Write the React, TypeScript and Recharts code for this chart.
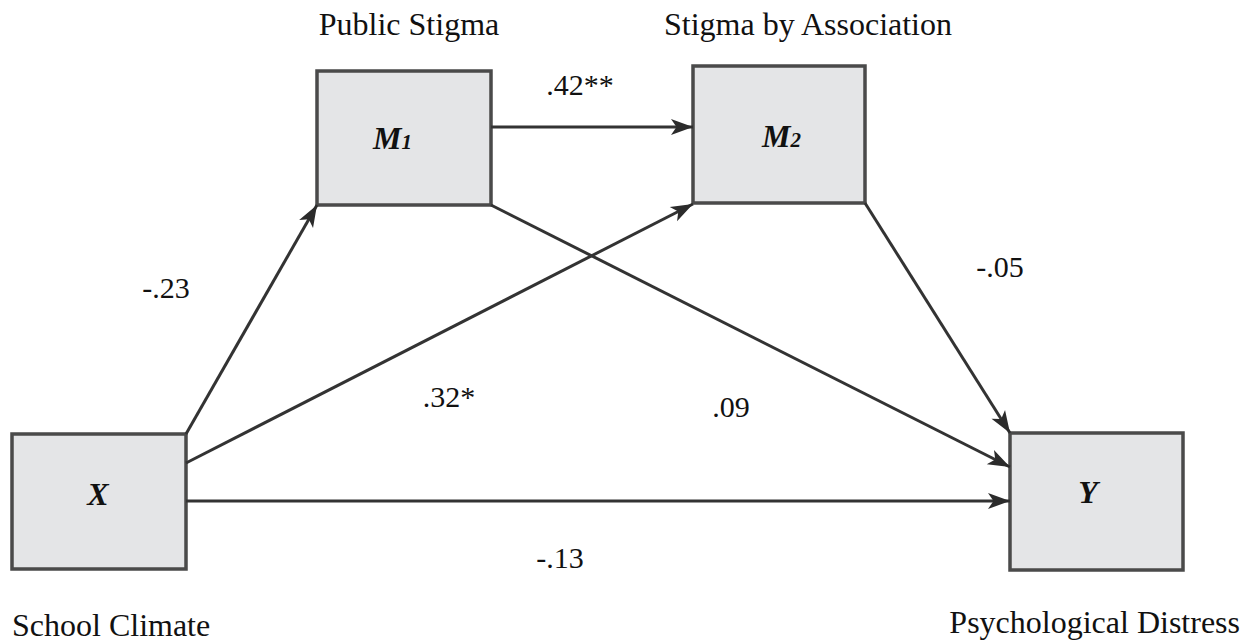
import { ReferenceArea, Scatter, ScatterChart, XAxis, YAxis } from 'recharts'

// Path model: boxes (pixel layout of the original figure).
const boxIds = ['X', 'M1', 'M2', 'Y']
const boxLetters = ['X', 'M', 'M', 'Y']
const boxSubs = ['', '1', '2', '']
const boxX1 = [12, 317, 693, 1010]
const boxX2 = [186, 491, 865, 1183]
const boxY1 = [434, 71, 66, 433]
const boxY2 = [569, 205, 203, 570]
const boxTextX = [98, 373, 762, 1088]
const boxTextY = [505, 149, 147, 503]

// Paths between boxes: start and end points.
const pathNames = ['X-M1', 'X-M2', 'X-Y', 'M1-M2', 'M1-Y', 'M2-Y']
const pathFrom = [
  [186, 434],
  [186, 463],
  [186, 501],
  [491, 127],
  [491, 205],
  [865, 203],
]
const pathTo = [
  [317, 205],
  [693, 204],
  [1010, 501],
  [693, 127],
  [1010, 467],
  [1010, 433],
]

// Path coefficients.
const coefTexts = ['-.23', '.32*', '-.13', '.42**', '.09', '-.05']
const coefX = [166, 449, 560, 580, 731, 1000]
const coefY = [298, 407, 568, 95, 417, 277]

// Construct names.
const constructTexts = ['Public Stigma', 'Stigma by Association', 'School Climate', 'Psychological Distress']
const constructX = [409, 808, 12, 1240]
const constructY = [35, 35, 636, 633]
const constructAnchor = ['middle', 'middle', 'start', 'end']

const W = 1254
const H = 644
const FONT = '"Liberation Serif", "Times New Roman", serif'

// Draws an arrowhead at the end point of a path.
function ArrowEnd(props: any) {
  const { cx, cy, payload } = props
  if (!payload || !payload.tip) return <g />
  const ang = Math.atan2(payload.dy, payload.dx)
  const L = 22
  const hw = 8
  const pts: [number, number][] = [
    [0, 0],
    [-L, -hw],
    [-L * 0.75, 0],
    [-L, hw],
  ]
  const c = Math.cos(ang)
  const s = Math.sin(ang)
  const str = pts.map(([px, py]) => `${cx + px * c - py * s},${cy + px * s + py * c}`).join(' ')
  return <polygon points={str} fill="#2b2b2b" />
}

function TextMark(props: any) {
  const { cx, cy, payload } = props
  return (
    <text
      x={cx}
      y={cy}
      textAnchor={payload.anchor}
      fontFamily={FONT}
      fontSize={payload.size}
      fill="#111"
    >
      {payload.text}
    </text>
  )
}

export default function App() {
  const coefData = coefTexts.map((t, i) => ({ x: coefX[i], y: coefY[i], text: t, anchor: 'middle', size: 30 }))
  const constructData = constructTexts.map((t, i) => ({
    x: constructX[i],
    y: constructY[i],
    text: t,
    anchor: constructAnchor[i],
    size: 32,
  }))

  return (
    <div style={{ position: 'absolute', left: 0, top: 0, width: W, height: H, background: '#fff' }}>
      <ScatterChart width={W} height={H} margin={{ top: 0, right: 0, bottom: 0, left: 0 }}>
        <XAxis type="number" dataKey="x" domain={[0, W]} hide allowDataOverflow />
        <YAxis type="number" dataKey="y" domain={[0, H]} reversed hide allowDataOverflow />
        {boxIds.map((id, i) => (
          <ReferenceArea
            key={id}
            x1={boxX1[i]}
            x2={boxX2[i]}
            y1={boxY1[i]}
            y2={boxY2[i]}
            fill="#e4e5e7"
            fillOpacity={1}
            stroke="#4a4a4a"
            strokeWidth={3.5}
            label={() => (
              <text
                x={boxTextX[i]}
                y={boxTextY[i]}
                textAnchor={boxSubs[i] ? 'start' : 'middle'}
                fontFamily={FONT}
                fontWeight="bold"
                fontStyle="italic"
                fontSize={32}
                fill="#111"
              >
                {boxLetters[i]}
                {boxSubs[i] ? <tspan fontSize={21}>{boxSubs[i]}</tspan> : null}
              </text>
            )}
          />
        ))}
        {pathNames.map((name, i) => {
          const dx = pathTo[i][0] - pathFrom[i][0]
          const dy = pathTo[i][1] - pathFrom[i][1]
          const data = [
            { x: pathFrom[i][0], y: pathFrom[i][1], tip: false, dx, dy },
            { x: pathTo[i][0], y: pathTo[i][1], tip: true, dx, dy },
          ]
          return (
            <Scatter
              key={name}
              name={name}
              data={data}
              line={{ stroke: '#333', strokeWidth: 3 }}
              lineType="joint"
              shape={ArrowEnd}
              isAnimationActive={false}
            />
          )
        })}
        <Scatter name="coefficients" data={coefData} shape={TextMark} isAnimationActive={false} />
        <Scatter name="constructs" data={constructData} shape={TextMark} isAnimationActive={false} />
      </ScatterChart>
    </div>
  )
}
